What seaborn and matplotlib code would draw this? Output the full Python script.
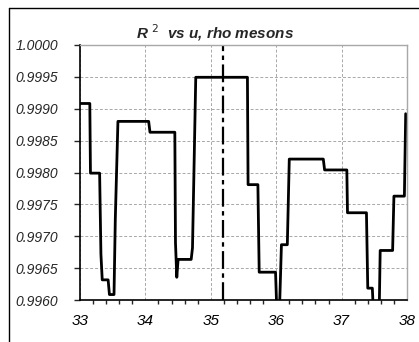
import matplotlib
matplotlib.use("Agg")
import matplotlib.pyplot as plt
import seaborn as sns
import pandas as pd
from matplotlib.lines import Line2D
from matplotlib.ticker import MultipleLocator

# ========== Data ========== #
u_values = [33.00, 33.15, 33.16, 33.30, 33.32, 33.34, 33.43, 33.45, 33.52, 33.54,
            33.58, 34.05, 34.07, 34.45, 34.46, 34.48, 34.50, 34.70, 34.72, 34.77,
            35.56, 35.57, 35.72, 35.74, 35.99, 36.02, 36.04, 36.08, 36.17, 36.20,
            36.72, 36.74, 37.08, 37.09, 37.38, 37.40, 37.47, 37.50, 37.57, 37.59,
            37.78, 37.80, 37.96, 37.98]
r2_values = [0.99908, 0.99908, 0.99799, 0.99799, 0.99672, 0.99632, 0.99632, 0.99609, 0.99609, 0.99728,
             0.99880, 0.99880, 0.99863, 0.99863, 0.99690, 0.99636, 0.99664, 0.99664, 0.99682, 0.99949,
             0.99949, 0.99781, 0.99781, 0.99644, 0.99644, 0.99550, 0.99550, 0.99687, 0.99687, 0.99821,
             0.99821, 0.99804, 0.99804, 0.99737, 0.99737, 0.99619, 0.99619, 0.99550, 0.99550, 0.99678,
             0.99678, 0.99763, 0.99763, 0.99892]
u_marker = 35.19
y_ticks = [0.9960, 0.9965, 0.9970, 0.9975, 0.9980, 0.9985, 0.9990, 0.9995, 1.0000]
x_ticks = [33, 34, 35, 36, 37, 38]

df = pd.DataFrame({"u": u_values, "r2": r2_values})

sns.set_style("white")
plt.rcParams["font.family"] = ["Liberation Sans", "DejaVu Sans"]

W, H = 419, 342
fig = plt.figure(figsize=(W / 100, H / 100), dpi=100)
ax = fig.add_axes([80 / W, 1 - 300.3 / H, (407 - 80) / W, (300.3 - 44.7) / H])

# ========== Line ========== #
sns.lineplot(data=df, x="u", y="r2", sort=False, color="black", linewidth=2.0, ax=ax)
ax.axvline(u_marker, color="black", linewidth=1.6, dashes=(8, 2, 2, 2))

ax.set_xlim(33, 38)
ax.set_ylim(0.996, 1.0)
ax.set_xticks(x_ticks)
ax.set_xticklabels([str(t) for t in x_ticks], fontsize=11, style="italic")
ax.xaxis.set_minor_locator(MultipleLocator(0.2))
ax.set_yticks(y_ticks)
ax.set_yticklabels([f"{t:.4f}" for t in y_ticks], fontsize=10, style="italic")
ax.set_xlabel("")
ax.set_ylabel("")

ax.grid(True, which="major", color="#a8a8a8", linestyle=(0, (3, 2)), linewidth=0.7)
ax.set_axisbelow(True)
ax.tick_params(axis="x", which="major", direction="inout", length=8, width=1, pad=6, colors="black")
ax.tick_params(axis="x", which="minor", direction="out", length=3, width=1, bottom=True)
ax.tick_params(axis="y", which="major", direction="out", length=4, width=1, pad=12, left=True)

for side in ["left", "bottom"]:
    ax.spines[side].set_color("black")
    ax.spines[side].set_linewidth(1.2)
for side in ["top", "right"]:
    ax.spines[side].set_color("#a8a8a8")
    ax.spines[side].set_linewidth(1.0)

# ========== Title ========== #
fig.text(215 / W, 1 - 33 / H, r"R $^{2}$  vs u, rho mesons", ha="center", va="center",
         fontsize=11, fontweight="bold", style="italic")

# ========== Outer frame (chart area border) ========== #
fig.add_artist(Line2D([8.5 / W, 8.5 / W], [0, 1 - 7.5 / H], color="black", linewidth=1.0))
fig.add_artist(Line2D([8.5 / W, 1], [1 - 7.5 / H, 1 - 7.5 / H], color="black", linewidth=1.0))

fig.savefig("out.png", dpi=100)
